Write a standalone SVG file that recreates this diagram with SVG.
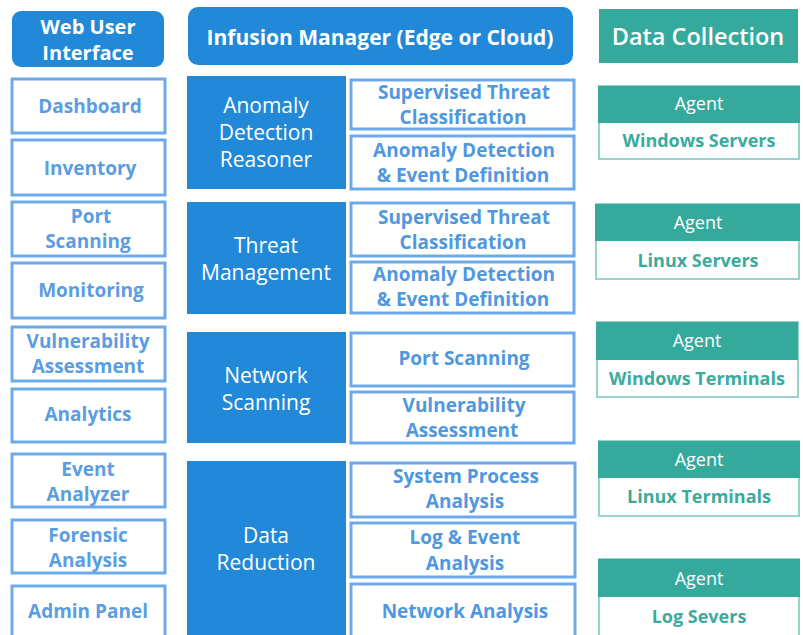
<svg xmlns="http://www.w3.org/2000/svg" width="803" height="635" viewBox="0 0 803 635">
<style>
text{font-family:"Open Sans","DejaVu Sans",sans-serif;text-anchor:middle}
.hdr{fill:#2189d8}
.hdrt{fill:#fff;font-weight:700;font-size:20px}
.big{font-size:21px}
.lbox{fill:#fff;stroke:#6eaaea;stroke-width:3}
.lt{fill:#5b9de2;font-weight:700;font-size:19px}
.mb{fill:#2189d8}
.mt{fill:#fff;font-size:21px}
.sb{fill:#fff;stroke:#6eaaea;stroke-width:3}
.st{fill:#4f98e0;font-weight:700;font-size:19px}
.th{fill:#36a99d}
.tb{fill:#fff;stroke:#9ad3cb;stroke-width:2}
.at{fill:#fff;font-size:18px}
.tt{fill:#3aab9d;font-weight:700;font-size:18px}
</style>
<rect width="803" height="635" fill="#fff"/>
<g id="web-ui-header"><rect class="hdr" x="12" y="11" width="152" height="56" rx="9"/><text class="hdrt" x="88" y="34">Web User</text><text class="hdrt" x="88" y="60">Interface</text></g>
<g id="infusion-header"><rect class="hdr" x="188" y="7" width="385" height="58" rx="10"/><text class="hdrt big" x="380" y="45">Infusion Manager (Edge or Cloud)</text></g>
<g id="data-collection-header"><rect class="th" x="599" y="9" width="199" height="54"/><text x="698" y="45" fill="#fff" font-size="23.5" font-weight="600">Data Collection</text></g>

<g id="dashboard"><rect class="lbox" x="12" y="79" width="153" height="54"/><text class="lt" x="90" y="113">Dashboard</text></g>
<g id="inventory"><rect class="lbox" x="12" y="140" width="153" height="55"/><text class="lt" x="90" y="175">Inventory</text></g>
<g id="port-scanning-ui"><rect class="lbox" x="12" y="202" width="153" height="54"/><text class="lt" x="91" y="223">Port</text><text class="lt" x="88" y="248">Scanning</text></g>
<g id="monitoring"><rect class="lbox" x="12" y="263" width="153" height="55"/><text class="lt" x="91" y="297">Monitoring</text></g>
<g id="vulnerability-ui"><rect class="lbox" x="12" y="327" width="153" height="54"/><text class="lt" x="88" y="348">Vulnerability</text><text class="lt" x="88" y="373">Assessment</text></g>
<g id="analytics"><rect class="lbox" x="12" y="389" width="153" height="53"/><text class="lt" x="88" y="421">Analytics</text></g>
<g id="event-analyzer"><rect class="lbox" x="12" y="454" width="153" height="53"/><text class="lt" x="88" y="476">Event</text><text class="lt" x="88" y="501">Analyzer</text></g>
<g id="forensic-analysis"><rect class="lbox" x="12" y="520" width="153" height="53"/><text class="lt" x="88" y="542">Forensic</text><text class="lt" x="88" y="567">Analysis</text></g>
<g id="admin-panel"><rect class="lbox" x="12" y="586" width="153" height="60"/><text class="lt" x="88" y="618">Admin Panel</text></g>

<g id="anomaly-detection-reasoner"><rect class="mb" x="187" y="76" width="159" height="113"/><text class="mt" x="266" y="113">Anomaly</text><text class="mt" x="266" y="140">Detection</text><text class="mt" x="266" y="167">Reasoner</text></g>
<g id="threat-management"><rect class="mb" x="187" y="202" width="159" height="112"/><text class="mt" x="266" y="253">Threat</text><text class="mt" x="266" y="280">Management</text></g>
<g id="network-scanning"><rect class="mb" x="187" y="332" width="159" height="111"/><text class="mt" x="266" y="383">Network</text><text class="mt" x="266" y="410">Scanning</text></g>
<g id="data-reduction"><rect class="mb" x="187" y="461" width="159" height="180"/><text class="mt" x="266" y="543">Data</text><text class="mt" x="266" y="570">Reduction</text></g>

<g id="stc-1"><rect class="sb" x="351" y="80" width="223" height="49"/><text class="st" x="464" y="99">Supervised Threat</text><text class="st" x="463" y="124">Classification</text></g>
<g id="aded-1"><rect class="sb" x="351" y="136" width="223" height="53"/><text class="st" x="464" y="157">Anomaly Detection</text><text class="st" x="463" y="182">&amp; Event Definition</text></g>
<g id="stc-2"><rect class="sb" x="351" y="203" width="223" height="53"/><text class="st" x="464" y="224">Supervised Threat</text><text class="st" x="463" y="249">Classification</text></g>
<g id="aded-2"><rect class="sb" x="351" y="262" width="223" height="51"/><text class="st" x="464" y="281">Anomaly Detection</text><text class="st" x="463" y="306">&amp; Event Definition</text></g>
<g id="port-scanning"><rect class="sb" x="351" y="333" width="223" height="53"/><text class="st" x="464" y="365">Port Scanning</text></g>
<g id="vulnerability-assessment"><rect class="sb" x="351" y="392" width="223" height="51"/><text class="st" x="464" y="412">Vulnerability</text><text class="st" x="462" y="437">Assessment</text></g>
<g id="system-process-analysis"><rect class="sb" x="351" y="463" width="224" height="54"/><text class="st" x="466" y="483">System Process</text><text class="st" x="465" y="508">Analysis</text></g>
<g id="log-event-analysis"><rect class="sb" x="351" y="523" width="224" height="54"/><text class="st" x="465" y="544">Log &amp; Event</text><text class="st" x="465" y="570">Analysis</text></g>
<g id="network-analysis"><rect class="sb" x="351" y="584" width="224" height="60"/><text class="st" x="465" y="618">Network Analysis</text></g>

<g id="agent-windows-servers"><rect class="tb" x="599" y="86" width="200" height="73"/><rect class="th" x="598" y="86" width="202" height="37"/><text class="at" x="699" y="110">Agent</text><text class="tt" x="699" y="147">Windows Servers</text></g>
<g id="agent-linux-servers"><rect class="tb" x="596" y="204" width="203" height="75"/><rect class="th" x="595" y="204" width="205" height="37"/><text class="at" x="698" y="229">Agent</text><text class="tt" x="698" y="267">Linux Servers</text></g>
<g id="agent-windows-terminals"><rect class="tb" x="597" y="322" width="201" height="75"/><rect class="th" x="596" y="322" width="202" height="38"/><text class="at" x="697" y="347">Agent</text><text class="tt" x="697" y="385">Windows Terminals</text></g>
<g id="agent-linux-terminals"><rect class="tb" x="599" y="441" width="200" height="75"/><rect class="th" x="598" y="441" width="202" height="37"/><text class="at" x="699" y="466">Agent</text><text class="tt" x="699" y="503">Linux Terminals</text></g>
<g id="agent-log-servers"><rect class="tb" x="599" y="559" width="200" height="85"/><rect class="th" x="598" y="559" width="202" height="38"/><text class="at" x="699" y="585">Agent</text><text class="tt" x="699" y="623">Log Severs</text></g>
<g id="connectors"/>
</svg>
